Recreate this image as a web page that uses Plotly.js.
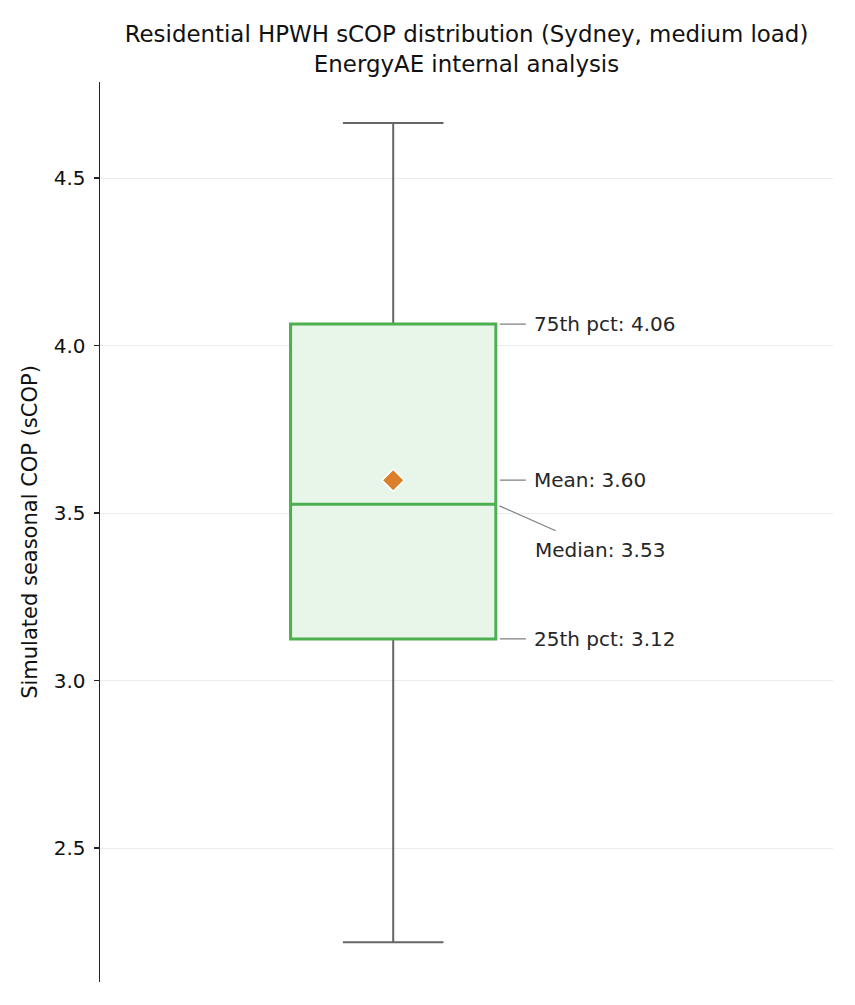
<!DOCTYPE html>
<html>
<head>
<meta charset="utf-8">
<script src="https://cdn.plot.ly/plotly-3.0.1.min.js"></script>
<style>
  html, body { margin: 0; padding: 0; background: #fff; }
  #graph { width: 855px; height: 1005px; }
</style>
</head>
<body>
<div id="graph"></div>
<script>
// summary stats of the simulated sCOP distribution
const q1 = [3.124];
const median = [3.526];
const q3 = [4.064];
const mean = [3.598];
const whiskerLow = [2.219];
const whiskerHigh = [4.664];
const position = [0];

const boxWidth = 0.42;
const labelFont = { family: "DejaVu Sans", size: 20, color: "#262626" };

// gray box carries the whiskers, green box drawn on top of it
const whiskers = {
  type: "box",
  x: position,
  q1: q1,
  median: median,
  q3: q3,
  lowerfence: whiskerLow,
  upperfence: whiskerHigh,
  width: boxWidth,
  whiskerwidth: 0.49,
  line: { color: "#666666", width: 2 },
  fillcolor: "rgba(0,0,0,0)",
  boxpoints: false,
  hoverinfo: "skip",
};

const box = {
  type: "box",
  x: position,
  q1: q1,
  median: median,
  q3: q3,
  lowerfence: q1,
  upperfence: q3,
  width: boxWidth,
  whiskerwidth: 0,
  line: { color: "#4caf50", width: 3 },
  fillcolor: "#e8f5e9",
  boxpoints: false,
  hoverinfo: "skip",
};

const meanMarker = {
  type: "scatter",
  mode: "markers",
  x: position,
  y: mean,
  marker: {
    symbol: "diamond",
    size: 17,
    color: "#dc7f2c",
    line: { color: "#ffffff", width: 1.5 },
  },
  hoverinfo: "skip",
};

function sideLabel(text, value) {
  return {
    x: position[0] + boxWidth / 2,
    y: value,
    xref: "x",
    yref: "y",
    text: text,
    showarrow: true,
    arrowhead: 0,
    arrowwidth: 1.2,
    arrowcolor: "#808080",
    standoff: 4,
    ax: 30,
    ay: 0,
    xanchor: "left",
    yanchor: "middle",
    borderpad: 7,
    font: labelFont,
  };
}

const medianLabel = {
  x: position[0] + boxWidth / 2,
  y: median[0],
  xref: "x",
  yref: "y",
  text: "Median: " + median[0].toFixed(2),
  showarrow: true,
  arrowhead: 0,
  arrowwidth: 1.2,
  arrowcolor: "#808080",
  standoff: 4,
  ax: 104,
  ay: 46,
  xanchor: "center",
  yanchor: "middle",
  borderpad: 7,
  font: labelFont,
};

const layout = {
  width: 855,
  height: 1005,
  margin: { l: 100, r: 22, t: 82, b: 23 },
  paper_bgcolor: "#ffffff",
  plot_bgcolor: "#ffffff",
  showlegend: false,
  boxmode: "overlay",
  font: { family: "DejaVu Sans", color: "#111111" },
  title: {
    text: "Residential HPWH sCOP distribution (Sydney, medium load)<br>EnergyAE internal analysis",
    x: 0.5,
    xref: "paper",
    xanchor: "center",
    y: 0.958,
    yref: "container",
    yanchor: "top",
    font: { family: "DejaVu Sans", size: 22.9, color: "#111111" },
  },
  xaxis: {
    range: [-0.6, 0.9],
    visible: false,
    showgrid: false,
    zeroline: false,
  },
  yaxis: {
    range: [2.1, 4.7866],
    tick0: 2.5,
    dtick: 0.5,
    tickformat: ".1f",
    ticks: "outside",
    ticklen: 5,
    tickwidth: 1.5,
    tickcolor: "#222222",
    ticklabelstandoff: 4,
    showline: true,
    linecolor: "#222222",
    linewidth: 1.5,
    showgrid: true,
    gridcolor: "#ebebeb",
    gridwidth: 1,
    zeroline: false,
    tickfont: { family: "DejaVu Sans", size: 20, color: "#111111" },
    title: {
      text: "Simulated seasonal COP (sCOP)",
      standoff: 10,
      font: { family: "DejaVu Sans", size: 21, color: "#111111" },
    },
  },
  annotations: [
    sideLabel("75th pct: " + q3[0].toFixed(2), q3[0]),
    sideLabel("Mean: " + mean[0].toFixed(2), mean[0]),
    medianLabel,
    sideLabel("25th pct: " + q1[0].toFixed(2), q1[0]),
  ],
};

Plotly.newPlot("graph", [whiskers, box, meanMarker], layout, {
  displayModeBar: false,
  staticPlot: true,
});
</script>
</body>
</html>
